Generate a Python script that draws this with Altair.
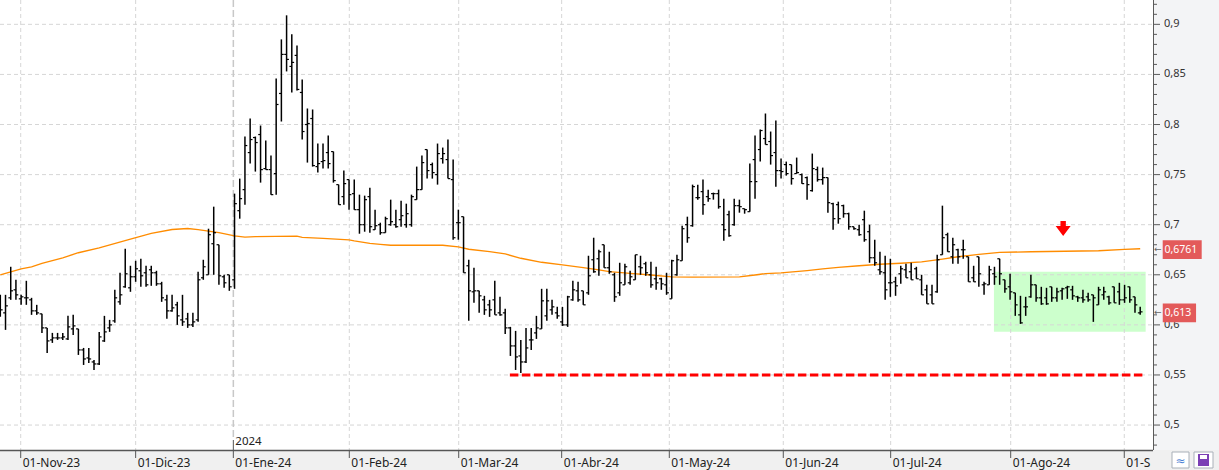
import altair as alt
import pandas as pd

# ---------------- data ----------------
high = [0.630,0.630,0.658,0.645,0.630,0.644,0.627,0.620,0.611,0.597,
        0.592,0.592,0.592,0.609,0.610,0.596,0.577,0.577,0.565,0.593,
        0.609,0.605,0.635,0.652,0.676,0.659,0.664,0.666,0.659,0.659,
        0.654,0.643,0.630,0.630,0.623,0.630,0.612,0.612,0.653,0.665,
        0.696,0.718,0.680,0.650,0.650,0.731,0.746,0.788,0.806,0.788,
        0.799,0.784,0.769,0.846,0.885,0.909,0.890,0.879,0.845,0.816,
        0.815,0.781,0.781,0.789,0.773,0.740,0.754,0.745,0.745,0.730,
        0.729,0.737,0.715,0.702,0.708,0.725,0.715,0.724,0.721,0.730,
        0.758,0.769,0.775,0.762,0.781,0.777,0.785,0.765,0.715,0.708,
        0.665,0.657,0.634,0.629,0.625,0.644,0.628,0.616,0.598,0.594,
        0.585,0.597,0.597,0.609,0.636,0.636,0.625,0.618,0.618,0.629,
        0.644,0.643,0.634,0.669,0.687,0.675,0.680,0.673,0.652,0.662,
        0.661,0.654,0.670,0.669,0.663,0.663,0.658,0.647,0.652,0.665,
        0.670,0.699,0.708,0.740,0.740,0.745,0.735,0.732,0.735,0.726,
        0.714,0.726,0.725,0.716,0.761,0.789,0.795,0.811,0.793,0.804,
        0.766,0.763,0.760,0.767,0.751,0.748,0.771,0.758,0.757,0.747,
        0.722,0.723,0.720,0.712,0.698,0.700,0.714,0.700,0.685,0.673,
        0.669,0.666,0.648,0.659,0.661,0.662,0.658,0.650,0.640,0.640,
        0.670,0.719,0.692,0.687,0.676,0.685,0.668,0.659,0.668,0.643,
        0.659,0.658,0.666,0.645,0.651,0.632,0.629,0.628,0.650,0.640,
        0.638,0.637,0.638,0.637,0.637,0.639,0.639,0.629,0.635,0.632,
        0.630,0.638,0.638,0.629,0.638,0.642,0.640,0.638,0.628,0.618]

low = [0.608,0.595,0.625,0.625,0.620,0.620,0.610,0.610,0.592,0.572,
       0.582,0.585,0.585,0.585,0.590,0.570,0.560,0.562,0.555,0.560,
       0.583,0.593,0.602,0.620,0.637,0.633,0.643,0.638,0.638,0.639,
       0.639,0.623,0.606,0.613,0.600,0.599,0.597,0.598,0.603,0.645,
       0.650,0.650,0.640,0.637,0.634,0.636,0.706,0.720,0.761,0.753,
       0.742,0.755,0.730,0.730,0.803,0.853,0.832,0.834,0.785,0.762,
       0.758,0.752,0.756,0.756,0.742,0.720,0.720,0.715,0.715,0.691,
       0.693,0.692,0.695,0.690,0.692,0.699,0.697,0.698,0.697,0.698,
       0.725,0.735,0.746,0.746,0.740,0.761,0.746,0.685,0.685,0.652,
       0.604,0.622,0.612,0.610,0.608,0.610,0.609,0.591,0.569,0.555,
       0.552,0.562,0.575,0.586,0.596,0.604,0.610,0.606,0.599,0.598,
       0.624,0.623,0.620,0.630,0.652,0.649,0.657,0.651,0.623,0.629,
       0.640,0.640,0.645,0.650,0.649,0.637,0.635,0.635,0.630,0.626,
       0.649,0.664,0.682,0.698,0.725,0.710,0.723,0.725,0.716,0.684,
       0.688,0.699,0.712,0.711,0.713,0.726,0.763,0.780,0.760,0.738,
       0.746,0.749,0.740,0.751,0.741,0.725,0.733,0.743,0.740,0.712,
       0.695,0.701,0.707,0.695,0.695,0.689,0.683,0.662,0.659,0.650,
       0.625,0.628,0.629,0.641,0.647,0.645,0.646,0.630,0.621,0.621,
       0.632,0.670,0.673,0.661,0.661,0.666,0.643,0.643,0.638,0.630,
       0.640,0.640,0.640,0.632,0.625,0.609,0.601,0.609,0.627,0.623,
       0.620,0.620,0.623,0.623,0.625,0.626,0.625,0.623,0.622,0.623,
       0.603,0.620,0.625,0.620,0.622,0.620,0.622,0.622,0.612,0.610]

opens = [0.625,0.612,0.627,0.635,0.626,0.627,0.625,0.614,0.611,0.597,
         0.585,0.587,0.587,0.586,0.596,0.596,0.575,0.567,0.563,0.561,
         0.584,0.597,0.604,0.623,0.638,0.637,0.648,0.654,0.652,0.655,
         0.652,0.641,0.625,0.614,0.620,0.605,0.606,0.600,0.605,0.647,
         0.650,0.681,0.680,0.648,0.650,0.645,0.714,0.735,0.772,0.787,
         0.790,0.756,0.755,0.751,0.831,0.870,0.858,0.869,0.832,0.800,
         0.806,0.758,0.763,0.772,0.773,0.740,0.728,0.745,0.731,0.715,
         0.700,0.728,0.695,0.700,0.692,0.700,0.700,0.705,0.700,0.700,
         0.725,0.735,0.775,0.760,0.750,0.766,0.765,0.745,0.702,0.708,
         0.659,0.633,0.634,0.625,0.620,0.625,0.612,0.612,0.597,0.579,
         0.569,0.563,0.585,0.592,0.596,0.609,0.615,0.612,0.603,0.600,
         0.625,0.634,0.634,0.632,0.665,0.666,0.680,0.657,0.650,0.632,
         0.640,0.642,0.645,0.658,0.661,0.650,0.646,0.646,0.640,0.626,
         0.650,0.664,0.700,0.699,0.727,0.733,0.728,0.731,0.731,0.700,
         0.710,0.700,0.719,0.716,0.713,0.765,0.775,0.786,0.783,0.772,
         0.754,0.760,0.760,0.751,0.750,0.747,0.734,0.755,0.745,0.747,
         0.721,0.720,0.719,0.711,0.698,0.695,0.705,0.693,0.667,0.655,
         0.652,0.642,0.643,0.651,0.655,0.653,0.656,0.645,0.635,0.630,
         0.633,0.670,0.690,0.668,0.675,0.675,0.668,0.647,0.668,0.640,
         0.640,0.651,0.666,0.645,0.638,0.632,0.610,0.618,0.628,0.640,
         0.627,0.627,0.638,0.627,0.634,0.637,0.635,0.628,0.627,0.628,
         0.630,0.620,0.630,0.628,0.638,0.633,0.625,0.638,0.628,0.612]

closes = [0.615,0.619,0.634,0.630,0.628,0.627,0.614,0.612,0.597,0.584,
          0.587,0.587,0.588,0.598,0.599,0.575,0.566,0.566,0.561,0.588,
          0.593,0.600,0.627,0.630,0.651,0.648,0.656,0.649,0.640,0.652,
          0.641,0.627,0.614,0.617,0.609,0.603,0.600,0.603,0.645,0.658,
          0.690,0.692,0.649,0.642,0.638,0.721,0.726,0.779,0.785,0.782,
          0.755,0.755,0.730,0.820,0.870,0.865,0.862,0.835,0.793,0.801,
          0.759,0.761,0.764,0.761,0.744,0.720,0.741,0.730,0.715,0.700,
          0.725,0.698,0.699,0.692,0.706,0.703,0.698,0.709,0.711,0.728,
          0.735,0.762,0.754,0.752,0.771,0.771,0.746,0.687,0.702,0.652,
          0.634,0.634,0.629,0.615,0.615,0.610,0.610,0.597,0.579,0.568,
          0.563,0.577,0.585,0.597,0.624,0.624,0.618,0.609,0.600,0.628,
          0.635,0.625,0.620,0.649,0.653,0.673,0.657,0.653,0.628,0.642,
          0.658,0.648,0.670,0.657,0.652,0.640,0.642,0.641,0.632,0.664,
          0.665,0.696,0.687,0.738,0.727,0.720,0.726,0.731,0.718,0.695,
          0.689,0.719,0.718,0.715,0.743,0.743,0.794,0.780,0.769,0.754,
          0.753,0.751,0.746,0.752,0.741,0.740,0.756,0.745,0.747,0.722,
          0.706,0.706,0.711,0.698,0.696,0.690,0.685,0.667,0.662,0.653,
          0.635,0.642,0.639,0.656,0.647,0.645,0.646,0.630,0.621,0.621,
          0.665,0.687,0.673,0.680,0.668,0.675,0.643,0.643,0.651,0.641,
          0.655,0.648,0.651,0.636,0.633,0.620,0.602,0.618,0.640,0.627,
          0.621,0.621,0.627,0.633,0.636,0.638,0.629,0.627,0.625,0.625,
          0.627,0.635,0.633,0.622,0.622,0.625,0.627,0.625,0.620,0.613]

# moving average (orange), read at bar positions
ma_bar = [0, 4, 6, 8, 12, 15, 19, 25, 29, 33, 36, 38, 42, 45, 47, 49, 57, 58, 62, 67,
          68, 71, 73, 75, 85, 88, 90, 94, 97, 100, 104, 108, 112, 115, 117, 121, 125, 129,
          133, 142, 145, 147, 150, 155, 158, 161, 165, 169, 173, 177, 181, 184, 188, 190,
          192, 198, 211, 216, 219]
ma_val = [0.6500, 0.6560, 0.6580, 0.6615, 0.6670, 0.6720, 0.6768, 0.6855, 0.6914, 0.6952,
          0.6962, 0.6950, 0.6920, 0.6888, 0.6876, 0.6880, 0.6885, 0.6874, 0.6864, 0.6848,
          0.6838, 0.6814, 0.6804, 0.6795, 0.6795, 0.6778, 0.6755, 0.6731, 0.6708, 0.6665,
          0.6625, 0.6598, 0.6572, 0.6548, 0.6532, 0.6515, 0.6498, 0.6480, 0.6476, 0.6480,
          0.6498, 0.6512, 0.6520, 0.6542, 0.6558, 0.6575, 0.6590, 0.6605, 0.6615, 0.6628,
          0.6657, 0.6680, 0.6704, 0.6714, 0.6724, 0.6730, 0.6740, 0.6754, 0.6760]

month_labels = ["01-Nov-23", "01-Dic-23", "01-Ene-24", "01-Feb-24", "01-Mar-24", "01-Abr-24",
                "01-May-24", "01-Jun-24", "01-Jul-24", "01-Ago-24", "01-S"]
month_bar = [3.92, 26.0, 44.77, 67.05, 88.07, 107.85, 128.53, 150.43, 171.06, 194.12, 215.94]
year_label = "2024"
year_bar = 44.77

y_major = [0.5, 0.55, 0.6, 0.65, 0.7, 0.75, 0.8, 0.85, 0.9]
y_major_labels = ["0,5", "0,55", "0,6", "0,65", "0,7", "0,75", "0,8", "0,85", "0,9"]
y_minor = [0.48, 0.49, 0.51, 0.52, 0.53, 0.54, 0.56, 0.57, 0.58, 0.59, 0.61, 0.62, 0.63, 0.64,
           0.66, 0.67, 0.68, 0.69, 0.71, 0.72, 0.73, 0.74, 0.76, 0.77, 0.78, 0.79, 0.81, 0.82,
           0.83, 0.84, 0.86, 0.87, 0.88, 0.89, 0.91, 0.92]

support_value = 0.55
support_from, support_to = 97.9, 219.5
box_from, box_to = 190.9, 220.05
box_low, box_high = 0.5932, 0.6531
arrow_bar, arrow_value = 204.2, 0.6962
ma_last, ma_last_label = 0.6761, "0,6761"
close_last, close_last_label = 0.613, "0,613"

# ---------------- chart ----------------
PW, PH = 1153, 450
FONT = "Noto Sans"
xs = alt.Scale(domain=[-0.06, 221.46], nice=False, zero=False)
ys = alt.Scale(domain=[0.4751, 0.9243], nice=False, zero=False)


def X(f):
    return alt.X(f, type="quantitative", scale=xs, axis=None)


def Y(f):
    return alt.Y(f, type="quantitative", scale=ys, axis=None)


one = pd.DataFrame({"k": [0]})
layers = []

layers.append(alt.Chart(one).mark_rect(color="#f3f4f6").encode(
    x=alt.value(PW), x2=alt.value(1219), y=alt.value(0), y2=alt.value(PH)))
layers.append(alt.Chart(one).mark_rect(color="#f0f0f0").encode(
    x=alt.value(0), x2=alt.value(1219), y=alt.value(PH), y2=alt.value(470)))

layers.append(alt.Chart(pd.DataFrame({"x0": [box_from], "x1": [box_to], "y0": [box_low], "y1": [box_high]}))
              .mark_rect(color="#ccffcc").encode(x=X("x0"), x2="x1", y=Y("y0"), y2="y1"))

layers.append(alt.Chart(pd.DataFrame({"v": y_major})).mark_rule(
    color="#d6d6d6", strokeDash=[4, 3], strokeWidth=1).encode(
    y=Y("v"), x=alt.value(0), x2=alt.value(PW)))
layers.append(alt.Chart(pd.DataFrame({"i": [m for j, m in enumerate(month_bar) if m != year_bar]})).mark_rule(
    color="#d6d6d6", strokeDash=[4, 3], strokeWidth=1).encode(
    x=X("i"), y=alt.value(0), y2=alt.value(PH)))
layers.append(alt.Chart(pd.DataFrame({"i": [year_bar]})).mark_rule(
    color="#c8c8c8", strokeDash=[7, 3], strokeWidth=1.5).encode(
    x=X("i"), y=alt.value(0), y2=alt.value(PH - 10)))

layers.append(alt.Chart(pd.DataFrame({"i": ma_bar, "v": ma_val})).mark_line(
    color="#ff8c00", strokeWidth=1.3).encode(x=X("i"), y=Y("v")))

bars = pd.DataFrame({"i": list(range(len(high))), "o": opens, "h": high, "l": low, "c": closes})
layers.append(alt.Chart(bars).mark_rule(color="#000000", strokeWidth=1.5).encode(
    x=X("i"), y=Y("h"), y2="l"))
layers.append(alt.Chart(bars).transform_calculate(a="datum.i - 0.45").mark_rule(
    color="#000000", strokeWidth=1.2).encode(x=X("a"), x2="i", y=Y("o")))
layers.append(alt.Chart(bars).transform_calculate(b="datum.i + 0.45").mark_rule(
    color="#000000", strokeWidth=1.2).encode(x=X("i"), x2="b", y=Y("c")))

layers.append(alt.Chart(pd.DataFrame({"x0": [support_from], "x1": [support_to], "v": [support_value]}))
              .mark_rule(color="#ff0000", strokeWidth=3, strokeDash=[8.5, 3.5])
              .encode(x=X("x0"), x2="x1", y=Y("v")))

ARROW = "M-0.36,-1L0.36,-1L0.36,-0.33L1,-0.33L0,1L-1,-0.33L-0.36,-0.33Z"
layers.append(alt.Chart(pd.DataFrame({"i": [arrow_bar], "v": [arrow_value]})).mark_point(
    shape=ARROW, size=225, filled=True, color="#ff0000", opacity=1, strokeWidth=0).encode(
    x=X("i"), y=Y("v")))

# right axis
layers.append(alt.Chart(one).mark_rule(color="#5a5a5a", strokeWidth=1).encode(
    x=alt.value(PW + 0.5), y=alt.value(0), y2=alt.value(PH)))
layers.append(alt.Chart(pd.DataFrame({"v": y_major})).mark_rule(color="#5a5a5a", strokeWidth=1).encode(
    y=Y("v"), x=alt.value(PW), x2=alt.value(PW + 7)))
layers.append(alt.Chart(pd.DataFrame({"v": y_minor})).mark_rule(color="#5a5a5a", strokeWidth=1).encode(
    y=Y("v"), x=alt.value(PW), x2=alt.value(PW + 4)))
layers.append(alt.Chart(pd.DataFrame({"v": y_major, "t": y_major_labels})).mark_text(
    align="left", baseline="middle", font=FONT, fontSize=11, color="#333333").encode(
    y=Y("v"), x=alt.value(1164), text="t:N"))

# bottom axis
layers.append(alt.Chart(one).mark_rule(color="#555555", strokeWidth=1.5).encode(
    x=alt.value(0), x2=alt.value(PW), y=alt.value(PH + 0.5)))
layers.append(alt.Chart(pd.DataFrame({"i": month_bar})).mark_rule(color="#555555", strokeWidth=1).encode(
    x=X("i"), y=alt.value(PH), y2=alt.value(PH + 8)))
layers.append(alt.Chart(pd.DataFrame({"i": month_bar, "t": month_labels})).mark_text(
    align="left", baseline="middle", dx=2, font=FONT, fontSize=12, color="#222222").encode(
    x=X("i"), y=alt.value(462.5), text="t:N"))
layers.append(alt.Chart(pd.DataFrame({"i": [year_bar]})).mark_rule(color="#555555", strokeWidth=1).encode(
    x=X("i"), y=alt.value(PH - 10), y2=alt.value(PH)))
layers.append(alt.Chart(pd.DataFrame({"i": [year_bar], "t": [year_label]})).mark_text(
    align="left", baseline="middle", dx=2, font=FONT, fontSize=11.5, color="#222222").encode(
    x=X("i"), y=alt.value(441.5), text="t:N"))

# price labels on the right axis
layers.append(alt.Chart(pd.DataFrame({"v": [ma_last]})).mark_point(
    shape="M-1,-0.48L1,-0.48L1,0.48L-1,0.48Z", size=1521, filled=True, color="#e35a5a",
    opacity=1, strokeWidth=0).encode(x=alt.value(1182.2), y=Y("v"), yOffset=alt.value(1)))
layers.append(alt.Chart(pd.DataFrame({"v": [close_last]})).mark_point(
    shape="M-1,-0.56L1,-0.56L1,0.56L-1,0.56Z", size=1109, filled=True, color="#e35a5a",
    opacity=1, strokeWidth=0).encode(x=alt.value(1179.4), y=Y("v"), yOffset=alt.value(1)))
layers.append(alt.Chart(pd.DataFrame({"v": [ma_last, close_last], "t": [ma_last_label, close_last_label]})).mark_text(
    align="left", baseline="middle", font=FONT, fontSize=10.5, color="#ffffff").encode(
    x=alt.value(1164.5), y=Y("v"), yOffset=alt.value(1), text="t:N"))
layers.append(alt.Chart(pd.DataFrame({"v": [ma_last, close_last]})).mark_text(
    align="left", baseline="middle", font="DejaVu Sans", fontSize=9, color="#666666").encode(
    x=alt.value(1154), y=Y("v"), text=alt.value("←")))

# small toolbar buttons bottom right
layers.append(alt.Chart(one).mark_rect(fill="#ffffff", stroke="#a9b0b8", strokeWidth=1).encode(
    x=alt.value(1172), x2=alt.value(1189), y=alt.value(452), y2=alt.value(468)))
layers.append(alt.Chart(one).mark_rect(fill="#ffffff", stroke="#a9b0b8", strokeWidth=1).encode(
    x=alt.value(1194), x2=alt.value(1213), y=alt.value(452), y2=alt.value(468)))
layers.append(alt.Chart(one).mark_text(font="DejaVu Sans", fontSize=12, color="#4a7fd4").encode(
    x=alt.value(1180.5), y=alt.value(461), text=alt.value("≈")))
layers.append(alt.Chart(one).mark_rect(color="#7b3fb5").encode(
    x=alt.value(1198), x2=alt.value(1209), y=alt.value(454), y2=alt.value(466)))
layers.append(alt.Chart(one).mark_rect(color="#ffffff").encode(
    x=alt.value(1200), x2=alt.value(1207), y=alt.value(455), y2=alt.value(459)))

chart = alt.layer(*layers).properties(
    width=PW, height=PH,
    padding={"left": 0, "top": 0, "right": 66, "bottom": 20},
    autosize=alt.AutoSizeParams(type="none"),
    background="#ffffff",
).configure_view(stroke=None)

chart.save("out.html", embed_options={"renderer": "svg", "actions": False})
